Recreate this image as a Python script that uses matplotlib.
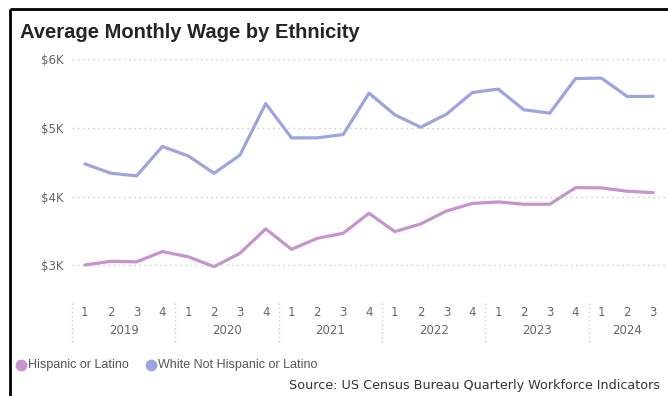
import matplotlib
matplotlib.use("Agg")
import matplotlib.pyplot as plt
import matplotlib.transforms as mtransforms
from matplotlib.lines import Line2D
import numpy as np

# ---- data ----
years = ["2019", "2020", "2021", "2022", "2023", "2024"]
quarters_per_year = [4, 4, 4, 4, 4, 3]
quarter_labels = ["1", "2", "3", "4"] * 5 + ["1", "2", "3"]
hispanic = [3004, 3058, 3050, 3200, 3124, 2980, 3175, 3530,
            3233, 3393, 3466, 3758, 3490, 3602, 3791, 3900,
            3923, 3889, 3889, 4131, 4127, 4078, 4058]
white = [4477, 4341, 4302, 4730, 4593, 4340, 4603, 5355,
         4856, 4856, 4904, 5507, 5191, 5011, 5201, 5516,
         5566, 5264, 5216, 5720, 5726, 5458, 5460]
yticks = [3000, 4000, 5000, 6000]
ytick_labels = ["$3K", "$4K", "$5K", "$6K"]
series_names = ["Hispanic or Latino", "White Not Hispanic or Latino"]

PINK = "#C693CC"
BLUE = "#9CA5DD"
W, H = 668, 396

fig = plt.figure(figsize=(W / 100, H / 100), dpi=100)
fig.patch.set_facecolor("white")

def fx(px):
    return px / W

def fy(py):
    return 1 - py / H

ax = fig.add_axes([fx(72), fy(290), fx(666) - fx(72), fy(59.3) - fy(290)])
x = np.arange(len(white))
ax.plot(x, hispanic, color=PINK, lw=2.3, solid_joinstyle="round", solid_capstyle="round")
ax.plot(x, white, color=BLUE, lw=2.3, solid_joinstyle="round", solid_capstyle="round")
ax.set_xlim(-0.5, len(white) - 0.5)
ax.set_ylim(2640, 6000)
ax.set_yticks(yticks)
ax.set_yticklabels(ytick_labels, fontsize=8.5, color="#666666", family="DejaVu Sans")
ax.tick_params(axis="y", length=0, pad=6)
ax.set_xticks([])
ax.grid(axis="y", color="#cfcfcf", linestyle=(0, (1.2, 2.5)), lw=1)
for s in ax.spines.values():
    s.set_visible(False)
ax.set_facecolor("none")

# x-axis hierarchical labels
trans = mtransforms.blended_transform_factory(ax.transData, fig.transFigure)
for xi, q in zip(x, quarter_labels):
    ax.text(xi, fy(312), q, transform=trans, ha="center", va="center",
            fontsize=8.5, color="#666666", clip_on=False)
start = 0
for yr, n in zip(years, quarters_per_year):
    center = start + (n - 1) / 2
    ax.text(center, fy(331), yr, transform=trans, ha="center", va="center",
            fontsize=8.5, color="#666666", clip_on=False)
    ax.add_line(Line2D([start - 0.5, start - 0.5], [fy(303), fy(343)], transform=trans,
                       color="#cccccc", lw=1, linestyle=(0, (1, 2)), clip_on=False))
    start += n

# title
fig.text(fx(20), fy(33), "Average Monthly Wage by Ethnicity", ha="left", va="center",
         fontsize=14.5, fontweight="bold", color="#252423", family="Liberation Sans")

# legend
legend_items = [(21, series_names[0], PINK, 28), (151, series_names[1], BLUE, 158)]
for mx, name, col, tx in legend_items:
    fig.add_artist(Line2D([fx(mx)], [fy(365)], marker="o", markersize=7.5,
                          color=col, linestyle="none", transform=fig.transFigure))
    fig.text(fx(tx), fy(365), name, ha="left", va="center", fontsize=9,
             color="#555555", family="Liberation Sans")

fig.text(fx(660), fy(385), "Source: US Census Bureau Quarterly Workforce Indicators",
         ha="right", va="center", fontsize=9.2, color="#333333", family="DejaVu Sans")

# frame border
fig.add_artist(Line2D([fx(10), fx(10)], [fy(9), 0], color="black", lw=2,
                      transform=fig.transFigure, solid_capstyle="butt"))
fig.add_artist(Line2D([fx(10), 1], [fy(9), fy(9)], color="black", lw=2,
                      transform=fig.transFigure, solid_capstyle="butt"))

fig.savefig("out.png", dpi=100, facecolor="white")
